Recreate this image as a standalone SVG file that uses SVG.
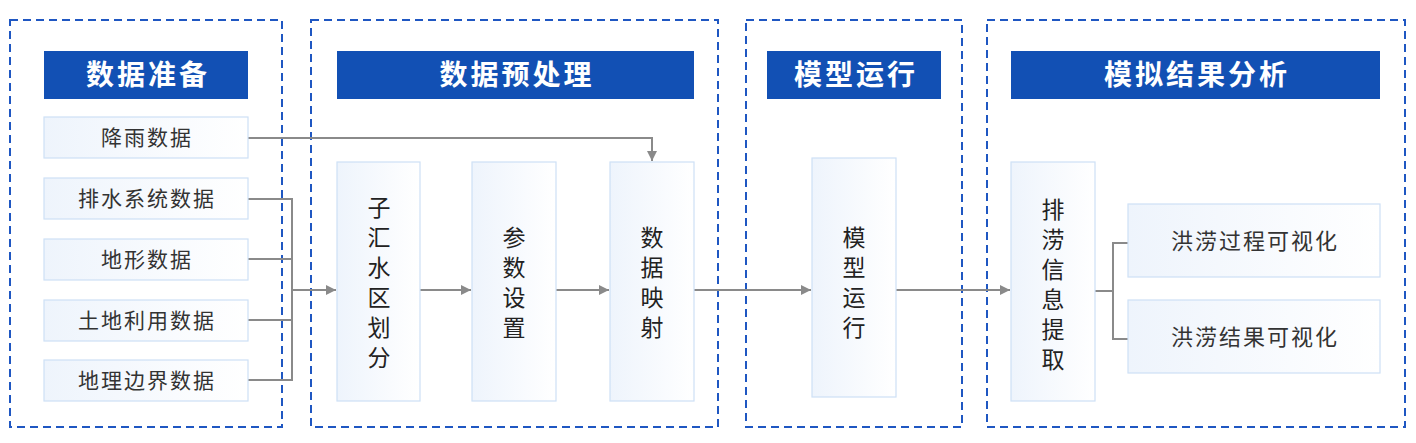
<svg xmlns="http://www.w3.org/2000/svg" width="1416" height="443" viewBox="0 0 1416 443">
<style>
.grp{fill:none;stroke:#1f57c2;stroke-width:2;stroke-dasharray:8 5}
.bar{fill:#1250b4}
.ttl{font-family:"Noto Sans CJK SC","Noto Sans",sans-serif;font-weight:bold;font-size:28px;fill:#fff;text-anchor:middle;letter-spacing:3px}
.box{fill:url(#g);stroke:#cde0f6;stroke-width:1.2}
.t{font-family:"Noto Sans CJK SC","Noto Sans",sans-serif;font-size:21px;fill:#333;text-anchor:middle;letter-spacing:2px}
.v{font-family:"Noto Sans CJK SC","Noto Sans",sans-serif;font-size:23px;fill:#222;text-anchor:middle;writing-mode:vertical-rl;letter-spacing:7px}
.c{fill:none;stroke:#8a8a8a;stroke-width:2}
</style>
<defs>
<linearGradient id="g" x1="0" y1="0" x2="1" y2="0">
<stop offset="0" stop-color="#eef4fc"/>
<stop offset="1" stop-color="#ffffff"/>
</linearGradient>
<marker id="a" viewBox="0 0 10 10" refX="10" refY="5" markerWidth="10" markerHeight="10" markerUnits="userSpaceOnUse" orient="auto">
<path d="M0,0 L10,5 L0,10 z" fill="#8a8a8a"/>
</marker>
</defs>
<rect width="1416" height="443" fill="#fff"/>
<g id="groups">
<rect class="grp" x="10" y="20" width="272" height="407"/>
<rect class="grp" x="311" y="20" width="407" height="407"/>
<rect class="grp" x="746" y="20" width="216" height="407"/>
<rect class="grp" x="987" y="20" width="418" height="407"/>
</g>
<g id="title1"><rect class="bar" x="44" y="51" width="204" height="48"/><text class="ttl" x="148" y="85">数据准备</text></g>
<g id="title2"><rect class="bar" x="337" y="51" width="357" height="48"/><text class="ttl" x="517" y="85">数据预处理</text></g>
<g id="title3"><rect class="bar" x="767" y="51" width="174" height="48"/><text class="ttl" x="856" y="85">模型运行</text></g>
<g id="title4"><rect class="bar" x="1011" y="51" width="369" height="48"/><text class="ttl" x="1197" y="85">模拟结果分析</text></g>
<g id="connectors">
<path class="c" d="M248,138 H652 V161" marker-end="url(#a)"/>
<path class="c" d="M248,199 H292 V380 H248 M248,259 H292 M248,320 H292"/>
<path class="c" d="M292,290 H336" marker-end="url(#a)"/>
<path class="c" d="M420,290 H471" marker-end="url(#a)"/>
<path class="c" d="M556,290 H609" marker-end="url(#a)"/>
<path class="c" d="M694,290 H811" marker-end="url(#a)"/>
<path class="c" d="M896,290 H1010" marker-end="url(#a)"/>
<path class="c" d="M1095,291 H1113 M1128,243 H1113 V339 H1128"/>
</g>
<g id="n1"><rect class="box" x="44" y="117" width="204" height="41"/><text class="t" x="147" y="145">降雨数据</text></g>
<g id="n2"><rect class="box" x="44" y="178" width="204" height="41"/><text class="t" x="147" y="206">排水系统数据</text></g>
<g id="n3"><rect class="box" x="44" y="239" width="204" height="41"/><text class="t" x="147" y="267">地形数据</text></g>
<g id="n4"><rect class="box" x="44" y="300" width="204" height="41"/><text class="t" x="147" y="328">土地利用数据</text></g>
<g id="n5"><rect class="box" x="44" y="360" width="204" height="41"/><text class="t" x="147" y="388">地理边界数据</text></g>
<g id="p1"><rect class="box" x="337" y="162" width="83" height="239"/><text class="v" x="379" y="286">子汇水区划分</text></g>
<g id="p2"><rect class="box" x="472" y="162" width="84" height="239"/><text class="v" x="514" y="286">参数设置</text></g>
<g id="p3"><rect class="box" x="610" y="162" width="84" height="239"/><text class="v" x="652" y="286">数据映射</text></g>
<g id="p4"><rect class="box" x="812" y="158" width="84" height="239"/><text class="v" x="854" y="286">模型运行</text></g>
<g id="p5"><rect class="box" x="1011" y="162" width="84" height="239"/><text class="v" x="1053" y="288">排涝信息提取</text></g>
<g id="r1"><rect class="box" x="1128" y="204" width="252" height="73"/><text class="t" style="font-size:22px" x="1255" y="249">洪涝过程可视化</text></g>
<g id="r2"><rect class="box" x="1128" y="300" width="252" height="73"/><text class="t" style="font-size:22px" x="1255" y="345">洪涝结果可视化</text></g>
</svg>
